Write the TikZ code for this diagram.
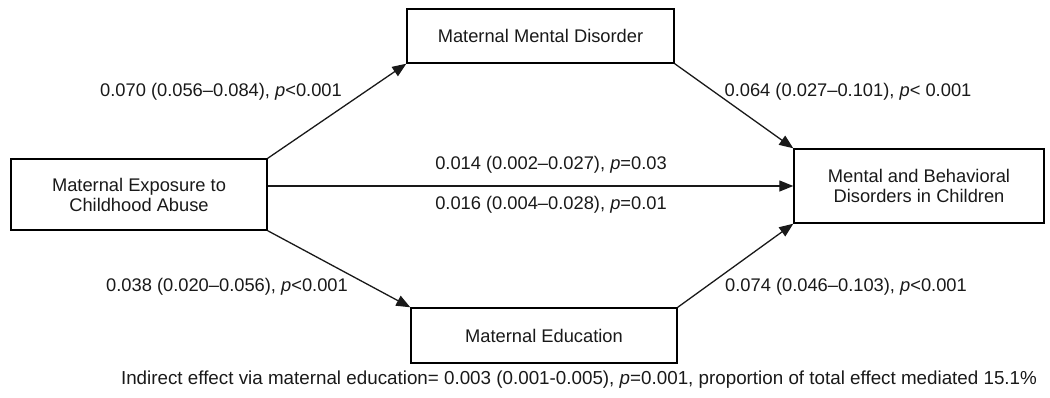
\documentclass[tikz,border=0pt]{standalone}
\usepackage{fontspec}
\setmainfont{Liberation Sans}
\usetikzlibrary{arrows.meta}
\begin{document}
\begin{tikzpicture}[x=1pt,y=-1pt,
  every node/.style={font=\fontsize{18.3}{20}\selectfont, text=black!90},
  box/.style={draw=black, line width=1.4pt, rectangle, align=center, inner sep=0pt},
  lbl/.style={inner sep=0pt, anchor=center},
  arr/.style={line width=1.3pt, draw=black!90, -{Triangle[length=14pt,width=11pt]}}]
\useasboundingbox (0,0) rectangle (1050,397);
\node[box, minimum width=256pt, minimum height=71pt] (left) at (139,194.5) {Maternal Exposure to\\Childhood Abuse};
\node[box, minimum width=267pt, minimum height=54pt] (top) at (540.5,36) {Maternal Mental Disorder};
\node[box, minimum width=250pt, minimum height=74pt] (right) at (919,186) {Mental and Behavioral\\Disorders in Children};
\node[box, minimum width=266pt, minimum height=55pt] (bottom) at (544,335.5) {Maternal Education};
\draw[arr] (left.north east) -- (top.south west);
\draw[arr] (top.south east) -- (right.north west);
\draw[arr] (left.south east) -- (bottom.north west);
\draw[arr] (bottom.north east) -- (right.south west);
\draw[arr] (left.east |- right.west) -- (right.west);
\node[lbl] (l1) at (221,92) {0.070 (0.056--0.084), \textit{p}<0.001};
\node[lbl] (l2) at (848,92) {0.064 (0.027--0.101), \textit{p}< 0.001};
\node[lbl] (l3) at (551,165) {0.014 (0.002--0.027), \textit{p}=0.03};
\node[lbl] (l4) at (551,205) {0.016 (0.004--0.028), \textit{p}=0.01};
\node[lbl] (l5) at (227,287) {0.038 (0.020--0.056), \textit{p}<0.001};
\node[lbl] (l6) at (846,287) {0.074 (0.046--0.103), \textit{p}<0.001};
\node[lbl, font=\fontsize{18.8}{20}\selectfont] (note) at (579,380) {Indirect effect via maternal education= 0.003 (0.001-0.005), \textit{p}=0.001, proportion of total effect mediated 15.1\%};
\end{tikzpicture}
\end{document}
